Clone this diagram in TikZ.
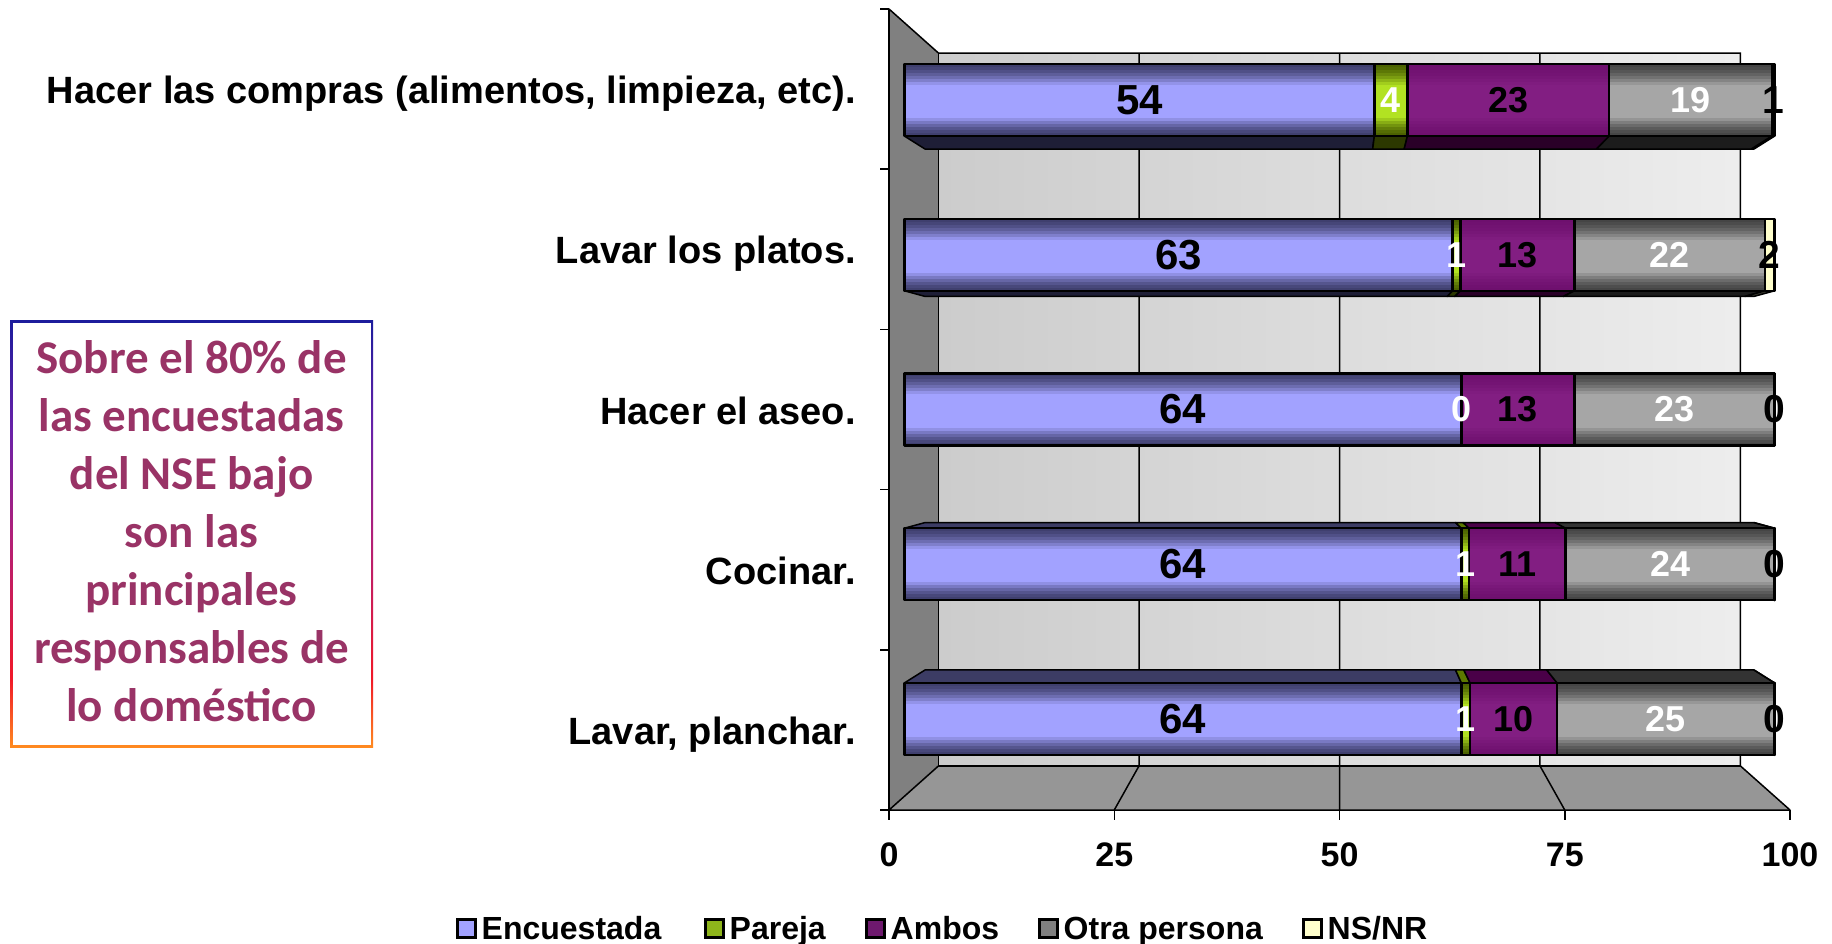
\documentclass[tikz,border=0pt]{standalone}
\usepackage{fontspec}
\setmainfont{Liberation Sans}
\newfontfamily\notefont{Carlito}
\usetikzlibrary{positioning}

\definecolor{encdark}{HTML}{3E3E6C}
\definecolor{enclight}{HTML}{A2A2FF}
\definecolor{pardark}{HTML}{4A6000}
\definecolor{parlight}{HTML}{B2E222}
\definecolor{ambdark}{HTML}{6E106E}
\definecolor{amblight}{HTML}{821E82}
\definecolor{otrdark}{HTML}{444444}
\definecolor{otrlight}{HTML}{A6A6A6}
\definecolor{nsdark}{HTML}{FFFFCC}
\definecolor{nslight}{HTML}{FFFFCC}
\definecolor{encbot}{HTML}{1E1E36}
\definecolor{enctop}{HTML}{3C3C64}
\definecolor{parbot}{HTML}{2C3800}
\definecolor{partop}{HTML}{5C7800}
\definecolor{ambbot}{HTML}{2A0028}
\definecolor{ambtop}{HTML}{4A0048}
\definecolor{otrbot}{HTML}{1C1C1C}
\definecolor{otrtop}{HTML}{333333}
\definecolor{nsbot}{HTML}{3A3A30}
\definecolor{nstop}{HTML}{CCCC99}
\definecolor{notecol}{HTML}{993366}
\definecolor{wallcol}{HTML}{808080}
\definecolor{floorcol}{HTML}{969696}
\definecolor{edgeblue}{HTML}{1C1C9C}
\definecolor{edgeviolet}{HTML}{6A22A8}
\definecolor{edgemag}{HTML}{B0207A}
\definecolor{edgered}{HTML}{F01828}
\definecolor{edgeorange}{HTML}{FF8A20}

% only 25bp..75bp of a shading fills the path
\pgfdeclareverticalshading{noteedge}{100bp}{color(0bp)=(edgeorange); color(25bp)=(edgeorange); color(33bp)=(edgered); color(50bp)=(edgemag); color(62bp)=(edgeviolet); color(75bp)=(edgeblue); color(100bp)=(edgeblue)}

\pgfdeclarelayer{front}
\pgfsetlayers{main,front}

\newcommand\chartfont[1]{\fontsize{#1}{#1}\selectfont\bfseries}

% perspective: front plane -> scale \sa (bar front), \sb (bar back)
\def\sa{0.9656}
\def\sb{0.92}
\def\sidebot{1}
\def\sidetop{-1}

% name, centre, side, from, to, kind, value
\newcommand\barseg[7]{%
  \pgfmathsetmacro\fxa{1339.5+\sa*(9.01*#4-450.5)}%
  \pgfmathsetmacro\fxb{1339.5+\sa*(9.01*#5-450.5)}%
  \pgfmathsetmacro\bxa{1339.5+\sb*(9.01*#4-450.5)}%
  \pgfmathsetmacro\bxb{1339.5+\sb*(9.01*#5-450.5)}%
  \pgfmathsetmacro\fyt{409.5+\sa*(#2-37.3-409.5)}%
  \pgfmathsetmacro\fyb{409.5+\sa*(#2+37.3-409.5)}%
  \ifcsname side#3\endcsname
    \pgfmathsetmacro\pe{#2+\csname side#3\endcsname*37.3}%
    \pgfmathsetmacro\sfy{409.5+\sa*(\pe-409.5)}%
    \pgfmathsetmacro\sby{409.5+\sb*(\pe-409.5)}%
    \filldraw[fill=#6#3, barline] (\fxa,\sfy) -- (\fxb,\sfy) -- (\bxb,\sby) -- (\bxa,\sby) -- cycle;
  \fi
  \ifdim#4pt=#5pt\else
    \pgfmathsetmacro\hh{(\fyb-\fyt)/24}%
    \foreach \i in {0,...,23} {
      \pgfmathsetmacro\lit{100*min(1,min((\i+0.5)/24/0.3,(1-(\i+0.5)/24)/0.26))^1.6}
      \fill[#6light!\lit!#6dark] (\fxa,{\fyt+\i*\hh}) rectangle (\fxb,{\fyt+(\i+1)*\hh+0.6});
    }
  \fi
  \draw[barline, line width=2.5pt] (\fxa,\fyt) rectangle (\fxb,\fyb);
  \begin{pgfonlayer}{front}
    \node[#6lab] (#1) at ({(\fxa+\fxb)/2},{(\fyt+\fyb)/2}) {#7};
  \end{pgfonlayer}
}

\begin{document}
\begin{tikzpicture}[x=1pt, y=-1pt,
  barline/.style={draw=black, line width=1.5pt, line join=round},
  gridline/.style={black, line width=1.5pt},
  enclab/.style={inner sep=0pt, font=\chartfont{42}, text=black},
  parlab/.style={inner sep=0pt, font=\chartfont{36}, text=white},
  amblab/.style={inner sep=0pt, font=\chartfont{36}, text=black},
  otrlab/.style={inner sep=0pt, font=\chartfont{36}, text=white},
  nslab/.style={inner sep=0pt, font=\chartfont{39}, text=black},
  catlab/.style={anchor=base east, inner sep=0pt, font=\chartfont{38}},
  axlab/.style={anchor=base, inner sep=0pt, font=\chartfont{34}},
  legsq/.style={draw=black, line width=3pt, minimum size=18pt, inner sep=0pt},
  leglab/.style={inner sep=0pt, text height=22pt, text depth=0pt, font=\chartfont{32}},
  notetext/.style={align=center, inner sep=0pt, text=notecol, font=\notefont\bfseries\fontsize{47}{58}\selectfont}]
\useasboundingbox (0,0) rectangle (1832,944);

% walls and floor
\shade[left color=gray!40, right color=gray!14] (938.5,53.1) rectangle (1740.4,765.9);
\fill[floorcol] (889,810) -- (938.5,765.9) -- (1740.4,765.9) -- (1790,810) -- cycle;
\fill[wallcol] (889,9) -- (938.5,53.1) -- (938.5,765.9) -- (889,810) -- cycle;
\draw[gridline] (889,9) -- (938.5,53.1) -- (1740.4,53.1) -- (1740.4,765.9) -- (1790,810);
\draw[gridline] (938.5,53.1) -- (938.5,765.9) -- (1740.4,765.9);
\draw[gridline] (938.5,765.9) -- (889,810) -- (1790,810);
\draw[gridline] (889,9) -- (889,810);
\foreach \v in {25,50,75}
  \draw[gridline] ({1339.5+0.89*(9.01*\v-450.5)},53.1) -- ({1339.5+0.89*(9.01*\v-450.5)},765.9)
                  -- ({889+9.01*\v},810);
% ticks
\foreach \y in {9,169.2,329.4,489.6,649.8,810}
  \draw[gridline] (880,\y) -- (889,\y);
\foreach \v in {0,25,50,75,100}
  \draw[gridline] ({889+9.01*\v},810) -- ({889+9.01*\v},820);

% bars
\barseg{e1}{89.1}{bot}{0}{54}{enc}{54}
\barseg{p1}{89.1}{bot}{54}{57.8}{par}{4}
\barseg{a1}{89.1}{bot}{57.8}{81}{amb}{23}
\barseg{o1}{89.1}{bot}{81}{99.7}{otr}{19}
\barseg{n1}{89.1}{bot}{99.7}{100}{ns}{1}

\barseg{e2}{249.3}{bot}{0}{63}{enc}{63}
\barseg{p2}{249.3}{bot}{63}{63.9}{par}{1}
\barseg{a2}{249.3}{bot}{63.9}{77}{amb}{13}
\barseg{o2}{249.3}{bot}{77}{98.9}{otr}{22}
\barseg{n2}{249.3}{bot}{98.9}{100}{ns}{2}

\barseg{e3}{409.5}{non}{0}{64}{enc}{64}
\barseg{p3}{409.5}{non}{64}{64}{par}{0}
\barseg{a3}{409.5}{non}{64}{77}{amb}{13}
\barseg{o3}{409.5}{non}{77}{100}{otr}{23}
\barseg{n3}{409.5}{non}{100}{100}{ns}{0}

\barseg{e4}{569.7}{top}{0}{64}{enc}{64}
\barseg{p4}{569.7}{top}{64}{64.9}{par}{1}
\barseg{a4}{569.7}{top}{64.9}{76}{amb}{11}
\barseg{o4}{569.7}{top}{76}{100}{otr}{24}
\barseg{n4}{569.7}{top}{100}{100}{ns}{0}

\barseg{e5}{729.9}{top}{0}{64}{enc}{64}
\barseg{p5}{729.9}{top}{64}{65}{par}{1}
\barseg{a5}{729.9}{top}{65}{75}{amb}{10}
\barseg{o5}{729.9}{top}{75}{100}{otr}{25}
\barseg{n5}{729.9}{top}{100}{100}{ns}{0}

% category and axis labels
\node[catlab] (c1) at (856,103.6) {Hacer las compras (alimentos, limpieza, etc).};
\node[catlab] (c2) at (856,263.8) {Lavar los platos.};
\node[catlab] (c3) at (856,424) {Hacer el aseo.};
\node[catlab] (c4) at (856,584.2) {Cocinar.};
\node[catlab] (c5) at (856,744.4) {Lavar, planchar.};
\foreach \v in {0,25,50,75,100}
  \node[axlab] (ax\v) at ({889+9.01*\v},866) {\v};

% legend
\node[legsq, fill=enclight] (kenc) at (466,928) {};
\node[leglab, right=5pt of kenc] (tenc) {Encuestada};
\node[legsq, fill=parlight!80!black] (kpar) at (714,928) {};
\node[leglab, right=5pt of kpar] (tpar) {Pareja};
\node[legsq, fill=amblight!85!black] (kamb) at (875,928) {};
\node[leglab, right=5pt of kamb] (tamb) {Ambos};
\node[legsq, fill=gray] (kotr) at (1048,928) {};
\node[leglab, right=5pt of kotr] (totr) {Otra persona};
\node[legsq, fill=nslight] (kns) at (1312,928) {};
\node[leglab, right=5pt of kns] (tns) {NS/NR};

% note box
\shade[shading=noteedge] (10,320) rectangle (373,747);
\fill[white] (12.5,322.5) rectangle (370.5,744.5);
\node[notetext] (nota) at (191.5,531) {Sobre el 80\% de\\las encuestadas\\del NSE bajo\\son las\\principales\\responsables de\\lo doméstico};
\end{tikzpicture}
\end{document}
